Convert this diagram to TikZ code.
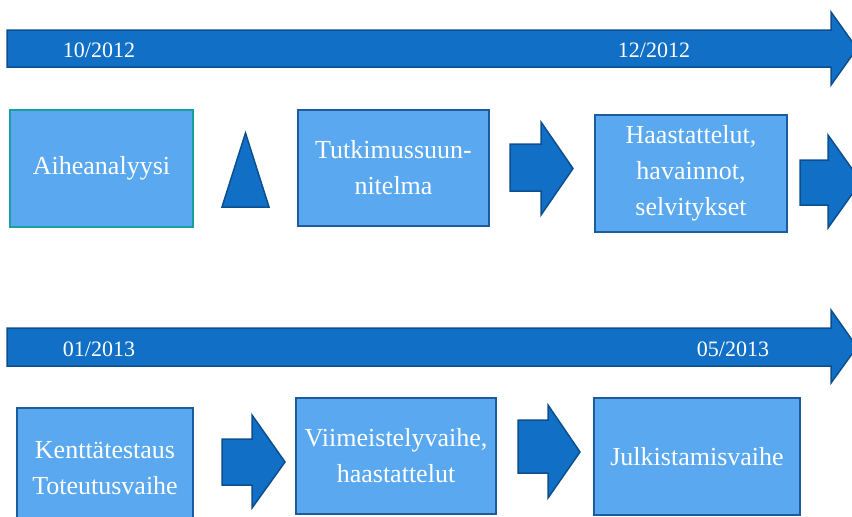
\documentclass[tikz,border=0pt]{standalone}
\usepackage{fontspec}
\setmainfont{Liberation Serif}
\definecolor{boxfill}{HTML}{5AA9F0}
\definecolor{boxline}{HTML}{1A5C9C}
\definecolor{tealline}{HTML}{1A9E9E}
\definecolor{arrfill}{HTML}{1170C6}
\definecolor{arrline}{HTML}{0C4F8E}
\tikzset{
  phase/.style={draw=boxline, line width=2pt, fill=boxfill, text=white,
    align=center, inner sep=0pt, font=\fontsize{26}{36}\selectfont},
  blockarrow/.style={draw=arrline, line width=1.5pt, fill=arrfill, line join=miter},
  datelabel/.style={text=white, inner sep=0pt, font=\fontsize{22}{26}\selectfont}
}
\begin{document}
\begin{tikzpicture}[x=1pt, y=-1pt]
  \useasboundingbox (0,0) rectangle (852,517);

  % timelines
  \draw[blockarrow] (7,30) -- (831,30) -- (831,12) -- (857,48.5) -- (831,85) -- (831,67) -- (7,67) -- cycle;
  \draw[blockarrow] (7,328) -- (831,328) -- (831,310) -- (857,347) -- (831,383) -- (831,366) -- (7,366) -- cycle;
  \node[datelabel] (d1) at (99,50) {10/2012};
  \node[datelabel] (d2) at (654,50) {12/2012};
  \node[datelabel] (d3) at (99,349) {01/2013};
  \node[datelabel] (d4) at (733,349) {05/2013};

  % first row
  \node[phase, draw=tealline, minimum width=183pt, minimum height=117pt] (aihe) at (101.5,168) {Aiheanalyysi};
  \draw[blockarrow] (222,207) -- (245.5,133) -- (269,207) -- cycle;
  \node[phase, minimum width=191pt, minimum height=116pt] (tutk) at (393.5,168) {Tutkimussuun-\\nitelma};
  \draw[blockarrow] (510,144) -- (541,144) -- (541,122) -- (573,168.5) -- (541,215) -- (541,191) -- (510,191) -- cycle;
  \node[phase, minimum width=192pt, minimum height=117pt] (haast) at (691,173) {Haastattelut,\\havainnot,\\selvitykset};
  \draw[blockarrow] (800,160) -- (828,160) -- (828,135) -- (861,181.5) -- (828,228) -- (828,205) -- (800,205) -- cycle;

  % second row
  \node[phase, minimum width=176pt, minimum height=120pt] (kentta) at (105,468) {Kenttätestaus\\Toteutusvaihe};
  \draw[blockarrow] (222,439) -- (252,439) -- (252,415) -- (285,462) -- (252,508) -- (252,485) -- (222,485) -- cycle;
  \node[phase, minimum width=200pt, minimum height=116pt] (viim) at (396,456) {Viimeistelyvaihe,\\haastattelut};
  \draw[blockarrow] (518,420) -- (548,420) -- (548,405) -- (580,452) -- (548,498) -- (548,473) -- (518,473) -- cycle;
  \node[phase, minimum width=206pt, minimum height=117pt] (julk) at (697,456.5) {Julkistamisvaihe};
\end{tikzpicture}
\end{document}
